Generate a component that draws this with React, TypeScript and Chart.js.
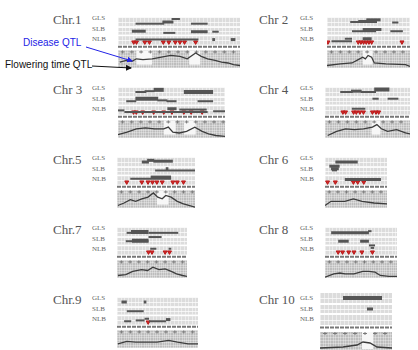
import React, { useEffect, useRef } from "react";
import { Chart, registerables } from "chart.js";
Chart.register(...registerables);

// ---------------- DATA ----------------
const CHROMOSOMES = ["Chr.1", "Chr 2", "Chr 3", "Chr 4", "Chr.5", "Chr 6", "Chr.7", "Chr 8", "Chr.9", "Chr 10"];
const TRACKS = ["GLS", "SLB", "NLB"];
const CHR_LENGTH_CM = [264, 186, 234, 190, 176, 144, 160, 164, 182, 144];

// QTL support intervals: [start cM, end cM, stack level, weight]
const GLS_QTL = [
  [[38, 100, -1, 2], [96, 120, 0, 3], [116, 134, 1.8, 2], [158, 194, -1, 2]],
  [[52, 72, 0, 2], [70, 112, 0.3, 3], [88, 120, 1.3, 3], [146, 160, -0.3, 2]],
  [[38, 62, 0, 2], [58, 80, 0.5, 2], [78, 100, 1.3, 4], [144, 208, 0, 4]],
  [[34, 62, 0, 2], [58, 82, 0.5, 3], [80, 114, 0, 2], [110, 144, 1.5, 4]],
  [[56, 72, 0, 3], [68, 84, 1, 3], [82, 126, 0.5, 3]],
  [[24, 76, 0, 3]],
  [[22, 32, -0.5, 2], [32, 72, 0, 4], [72, 140, -0.5, 2]],
  [[14, 100, -0.5, 3], [98, 106, 0.5, 2]],
  [[10, 22, 0, 3], [60, 66, 0, 3]],
  [[46, 124, 0, 4]],
];
const SLB_QTL = [
  [[30, 60, 0, 3], [98, 124, -1, 2], [158, 194, -0.3, 3], [204, 218, -0.3, 2]],
  [[56, 110, 0, 2], [80, 122, 1, 3], [142, 170, 0, 2]],
  [[18, 40, 0, 2], [38, 88, 1.5, 4], [86, 108, 0.5, 2], [106, 128, 0, 2], [174, 208, 0, 2]],
  [[106, 120, 1.5, 2], [140, 164, 1.5, 2]],
  [[86, 176, 0.5, 2], [110, 116, 1.5, 3]],
  [[10, 34, 3, 3], [14, 32, 1.5, 3], [16, 28, 0.5, 2]],
  [[72, 102, 2.5, 2], [20, 72, 0, 2], [34, 72, 0.3, 4]],
  [[30, 54, 0, 3], [80, 100, 0, 3]],
  [[22, 60, 0, 2]],
  [[94, 106, 0, 3]],
];
const NLB_QTL = [
  [[38, 174, 1, 2], [204, 210, 1, 3], [244, 254, 1, 3]],
  [[10, 56, 0, 2], [40, 56, 1.5, 2], [80, 100, 1.5, 3]],
  [[0, 14, 0.5, 2], [14, 196, -0.5, 2], [108, 128, 1.5, 3], [134, 194, 1, 2], [208, 234, 0, 2]],
  [[60, 90, 1.5, 2]],
  [[30, 122, 1.5, 2], [76, 122, 2.5, 3]],
  [[46, 130, 1, 3]],
  [[76, 90, 1.5, 2], [118, 124, 1.5, 2]],
  [[100, 114, 3.5, 2], [104, 112, 2, 2]],
  [[16, 32, 0, 2], [42, 62, 0.5, 2], [62, 72, 1.5, 2], [72, 110, 0, 2], [110, 120, 1, 3]],
  [],
];
// NLB QTL peaks (cM)
const NLB_PEAKS = [
  [34, 40, 58, 68, 98, 110, 124, 134, 144, 168],
  [2, 70, 76, 82, 88, 94, 100, 168],
  [34, 40, 54, 78, 100, 118, 144, 160, 184],
  [40, 46, 64, 70, 78, 86, 106, 114, 120],
  [22, 56, 70, 80, 90, 102, 126, 136, 150],
  [6, 24, 66, 76, 90],
  [72, 80, 110, 120],
  [30, 40, 54, 66, 84, 108],
  [70],
  [],
];
// Flowering time QTL intervals (cM)
const FT_QTL = [
  [[40, 74], [154, 178]],
  [[80, 102]],
  [[100, 126], [144, 170]],
  [[104, 124]],
  [[90, 116]],
  [],
  [],
  [],
  [],
  [[84, 106]],
];
// Flowering time profile: [cM, score]
const FT_PROFILE = [
  [[4, 3], [18, 4], [30, 3.5], [40, 5], [54, 4.5], [74, 5], [94, 6], [114, 7], [134, 6.5], [150, 5], [168, 8.5], [180, 6.5], [194, 5], [210, 4], [224, 3], [238, 2.5], [250, 1.5], [264, 1]],
  [[0, 1], [30, 2], [56, 2.5], [70, 4.5], [80, 6], [86, 5], [92, 7], [100, 6], [106, 2.5], [132, 2], [176, 1.5], [186, 0.5]],
  [[0, 1.5], [20, 3], [40, 5], [60, 5.5], [80, 5], [100, 5], [110, 6], [120, 3], [134, 2.5], [150, 3.5], [168, 6], [184, 3.5], [198, 2], [214, 1], [234, 0.5]],
  [[6, 1], [26, 3.5], [46, 5], [66, 4.5], [86, 5], [106, 6], [116, 7.5], [126, 5], [140, 3.5], [160, 4.5], [180, 2.5], [190, 2]],
  [[2, 1], [16, 2.5], [30, 4.5], [42, 3.5], [56, 5], [70, 6], [82, 8.5], [92, 6], [102, 5], [110, 7], [122, 6], [136, 3.5], [150, 2], [162, 1], [176, 0]],
  [[0, 1], [14, 3.5], [46, 3.5], [66, 5], [86, 3.5], [114, 2.5], [144, 2]],
  [[2, 1], [20, 1.5], [36, 3.5], [56, 4.5], [70, 4], [82, 6], [96, 4.5], [110, 5], [124, 3.5], [136, 2], [150, 1], [160, 0.5]],
  [[0, 0], [20, 2], [34, 2.5], [46, 2], [66, 2], [86, 3.5], [100, 3.5], [114, 3], [126, 1], [146, 0.5], [164, 0.5]],
  [[2, 2], [22, 3.5], [42, 3], [70, 3], [90, 3], [116, 4], [136, 3], [160, 2], [182, 2]],
  [[0, 2], [46, 2.5], [74, 3.5], [86, 5], [100, 4.5], [114, 2.5], [144, 2]],
];

// ---------------- LAYOUT ----------------
const PANEL_X = [113, 322, 113, 320, 112, 320, 112, 320, 112, 320];
const PANEL_Y = [12, 12, 82, 82, 152, 152, 222, 222, 292, 292];
const PANEL_W = [132, 93, 117, 95, 88, 72, 80, 82, 91, 72];
const PANEL_H = 61;
const LABEL_X = [53, 259];
const TRACK_LABEL_X = [92, 300];

// track axis (yQ): 0..61, value = pixels from bottom
const ROW_BASE = [55, 44, 32];
const LEVEL_STEP = 2;
const TRACK_BANDS = [[50, 60], [40, 48], [28, 38]];
const MARKER_ROW = 25.5;
const PEAK_Y = 31;
const TRACK_LABEL_REL = [6, 17, 27];

const panelBackground = {
  id: "panelBackground",
  beforeDatasetsDraw(chart: any, _args: any, opts: any) {
    const { ctx, chartArea: a, scales } = chart;
    const x = scales.x, yQ = scales.yQ, yP = scales.yP;
    const len = opts.len as number;
    ctx.save();
    // track bands
    for (const [lo, hi] of TRACK_BANDS) {
      const t = yQ.getPixelForValue(hi), b = yQ.getPixelForValue(lo);
      ctx.fillStyle = "#dcdcdc";
      ctx.fillRect(a.left, t, a.width, b - t);
      ctx.strokeStyle = "rgba(255,255,255,0.45)";
      ctx.lineWidth = 1;
      for (let v = 0; v <= len; v += 8) {
        const px = Math.round(x.getPixelForValue(v)) + 0.5;
        ctx.beginPath(); ctx.moveTo(px, t); ctx.lineTo(px, b); ctx.stroke();
      }
      const m = Math.round((t + b) / 2) + 0.5;
      ctx.strokeStyle = "rgba(255,255,255,0.7)";
      ctx.beginPath(); ctx.moveTo(a.left, m); ctx.lineTo(a.right, m); ctx.stroke();
    }
    // profile band
    const pt = yP.getPixelForValue(10), pb = yP.getPixelForValue(-0.5);
    ctx.fillStyle = "#bdbdbd";
    ctx.fillRect(a.left, pt, a.width, pb - pt);
    ctx.strokeStyle = "rgba(255,255,255,0.3)";
    for (let v = 0; v <= len; v += 5) {
      const px = Math.round(x.getPixelForValue(v)) + 0.5;
      ctx.beginPath(); ctx.moveTo(px, pt); ctx.lineTo(px, pb); ctx.stroke();
    }
    for (let s = 0; s <= 10; s += 1.5) {
      const py = Math.round(yP.getPixelForValue(s)) + 0.5;
      ctx.beginPath(); ctx.moveTo(a.left, py); ctx.lineTo(a.right, py); ctx.stroke();
    }
    // flowering time QTL windows
    for (const [s, e] of opts.gaps as number[][]) {
      const l = x.getPixelForValue(s), r = x.getPixelForValue(e);
      ctx.fillStyle = "#f7f7f7";
      ctx.fillRect(l, pt, r - l, yP.getPixelForValue(1.5) - pt);
    }
    // marker ticks on top of profile
    ctx.fillStyle = "#7a7a7a";
    for (let v = 10; v < len; v += 20) {
      const px = x.getPixelForValue(v);
      ctx.fillRect(px - 2, pt + 1, 4, 1);
      ctx.fillRect(px - 0.5, pt, 1, 3);
    }
    ctx.restore();
  },
};

function Panel({ idx }: { idx: number }) {
  const ref = useRef<HTMLCanvasElement>(null);
  useEffect(() => {
    const len = CHR_LENGTH_CM[idx];
    const datasets: any[] = [];
    const addIntervals = (list: number[][], base: number) =>
      list.forEach(([s, e, lvl, w]) => {
        const y = base + lvl * LEVEL_STEP;
        datasets.push({
          data: [{ x: s, y }, { x: e, y }],
          borderColor: "#555",
          borderWidth: w,
          borderCapStyle: "butt",
          pointRadius: 0,
          yAxisID: "yQ",
        });
      });
    datasets.push({
      data: [{ x: 0, y: MARKER_ROW }, { x: len, y: MARKER_ROW }],
      borderColor: "#777",
      borderWidth: 2,
      borderDash: [4, 1],
      pointRadius: 0,
      yAxisID: "yQ",
    });
    addIntervals(GLS_QTL[idx], ROW_BASE[0]);
    addIntervals(SLB_QTL[idx], ROW_BASE[1]);
    addIntervals(NLB_QTL[idx], ROW_BASE[2]);
    datasets.push({
      data: NLB_PEAKS[idx].map((x) => ({ x, y: PEAK_Y })),
      showLine: false,
      pointStyle: "triangle",
      pointRotation: 180,
      pointRadius: 2.3,
      pointBackgroundColor: "#d42828",
      pointBorderColor: "#b81a1a",
      pointBorderWidth: 1,
      yAxisID: "yQ",
    });
    datasets.push({
      data: FT_PROFILE[idx].map(([x, y]) => ({ x, y })),
      borderColor: "#3c3c3c",
      borderWidth: 1.3,
      pointRadius: 0,
      tension: 0,
      yAxisID: "yP",
    });
    const chart = new Chart(ref.current as HTMLCanvasElement, {
      type: "line",
      data: { datasets },
      options: {
        animation: false,
        responsive: false,
        maintainAspectRatio: false,
        devicePixelRatio: 1,
        layout: { padding: 0 },
        events: [],
        plugins: {
          legend: { display: false },
          tooltip: { enabled: false },
          panelBackground: { len, gaps: FT_QTL[idx] },
        } as any,
        scales: {
          x: { type: "linear", min: 0, max: len, display: false },
          yQ: { type: "linear", min: 0, max: 61, display: false },
          yP: { type: "linear", min: -0.5, max: 30, display: false },
        },
      },
      plugins: [panelBackground],
    });
    return () => chart.destroy();
  }, [idx]);
  return (
    <canvas
      ref={ref}
      width={PANEL_W[idx]}
      height={PANEL_H}
      style={{ position: "absolute", left: PANEL_X[idx], top: PANEL_Y[idx], width: PANEL_W[idx], height: PANEL_H }}
    />
  );
}

const serif = '"Liberation Serif", "DejaVu Serif", serif';
const sans = '"Liberation Sans", Arial, sans-serif';

export default function App() {
  return (
    <div style={{ position: "fixed", left: 0, top: 0, width: 418, height: 350, background: "#fff", overflow: "hidden", filter: "blur(0.3px)" }}>
      {CHROMOSOMES.map((name, i) => {
        const col = i % 2;
        const top = PANEL_Y[i];
        return (
          <React.Fragment key={name}>
            <div style={{ position: "absolute", left: LABEL_X[col], top: top, height: 16, lineHeight: "16px", fontFamily: serif, fontSize: 13, color: "#555", whiteSpace: "nowrap" }}>{name}</div>
            {TRACKS.map((t, k) => (
              <div key={t} style={{ position: "absolute", left: TRACK_LABEL_X[col], top: top + TRACK_LABEL_REL[k] - 4, height: 8, lineHeight: "8px", fontFamily: serif, fontSize: 7, color: "#666", whiteSpace: "nowrap" }}>{t}</div>
            ))}
            <Panel idx={i} />
          </React.Fragment>
        );
      })}
      <div style={{ position: "absolute", left: 23, top: 36, height: 14, lineHeight: "14px", fontFamily: sans, fontSize: 10, color: "#2323e6", whiteSpace: "nowrap" }}>Disease QTL</div>
      <div style={{ position: "absolute", left: 5, top: 58, height: 14, lineHeight: "14px", fontFamily: sans, fontSize: 10, color: "#111", whiteSpace: "nowrap" }}>Flowering time QTL</div>
      <svg width={418} height={350} style={{ position: "absolute", left: 0, top: 0, pointerEvents: "none" }}>
        <defs>
          <marker id="ab" markerWidth="6" markerHeight="6" refX="5" refY="3" orient="auto" markerUnits="userSpaceOnUse">
            <path d="M0,0 L6,3 L0,6 z" fill="#2323e6" />
          </marker>
          <marker id="ak" markerWidth="6" markerHeight="6" refX="5" refY="3" orient="auto" markerUnits="userSpaceOnUse">
            <path d="M0,0 L6,3 L0,6 z" fill="#111" />
          </marker>
        </defs>
        <line x1={86} y1={47} x2={132} y2={61} stroke="#2323e6" strokeWidth={1} markerEnd="url(#ab)" />
        <line x1={92} y1={66} x2={131} y2={68} stroke="#111" strokeWidth={1} markerEnd="url(#ak)" />
      </svg>
    </div>
  );
}
